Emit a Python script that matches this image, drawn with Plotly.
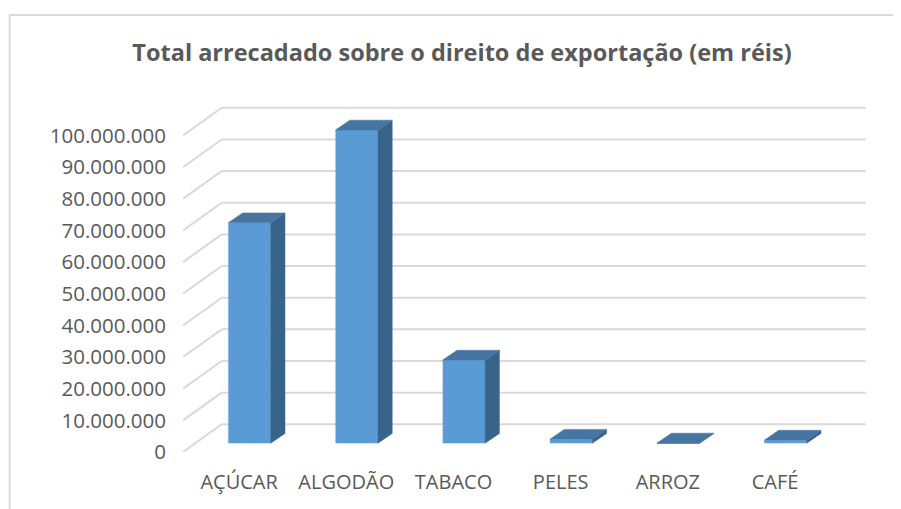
import plotly.graph_objects as go

# ---- data ----
categories = ["AÇÚCAR", "ALGODÃO", "TABACO", "PELES", "ARROZ", "CAFÉ"]
values = [69_700_000, 99_000_000, 26_300_000, 1_300_000, 100_000, 1_000_000]
y_ticks = list(range(0, 100_000_001, 10_000_000))

# ---- layout geometry (pixels of the target picture) ----
OFF = 8                 # page body margin of the browser
W, H = 901 - OFF, 509 - OFF
def PX(v):
    return v - OFF

plot_l, plot_r, plot_t, plot_b = PX(183), PX(875), PX(60), PX(452)
X0_PX = PX(249.5)       # pixel of first bar's front-face centre
PX_PER_UNIT = 107.2     # pixels per category step
PX_PER_VAL = 3.165 / 1e6

xr = [(plot_l - X0_PX) / PX_PER_UNIT, (plot_r - X0_PX) / PX_PER_UNIT]
yr = [0, (plot_b - plot_t) / PX_PER_VAL]

bar_base = (452 - 443.3) / PX_PER_VAL
wall_dy = (452 - 424.3) / PX_PER_VAL
wall_x0 = (PX(221.7) - X0_PX) / PX_PER_UNIT
wall_x1 = (PX(865.7) - X0_PX) / PX_PER_UNIT
front_x0 = xr[0]
half_w = 21.2 / PX_PER_UNIT
depth_dx = 14.3 / PX_PER_UNIT
depth_dy = 9.8 / PX_PER_VAL
label_shift = -10.4 / PX_PER_UNIT

FRONT = "#5B9BD5"
TOP = "#4675A2"
SIDE = "#38648C"
GRID = "#D9D9D9"
TEXT = "#595959"
FONT = "Open Sans"

xpos = list(range(len(categories)))

fig = go.Figure()

sx, sy = [], []
tx, ty = [], []
for xc, v in zip(xpos, values):
    b = bar_base
    r = xc + half_w
    l = xc - half_w
    sx += [r, r, r + depth_dx, r + depth_dx, r, None]
    sy += [b, b + v, b + v + depth_dy, b + depth_dy, b, None]
    tx += [l, r, r + depth_dx, l + depth_dx, l, None]
    ty += [b + v, b + v, b + v + depth_dy, b + v + depth_dy, b + v, None]

fig.add_trace(go.Bar(
    x=xpos, y=values, base=bar_base, width=2 * half_w,
    marker=dict(color=FRONT, line=dict(width=0)),
    hoverinfo="skip", showlegend=False,
))
fig.add_trace(go.Scatter(
    x=sx, y=sy, mode="lines", fill="toself", fillcolor=SIDE,
    line=dict(width=0.5, color=SIDE), hoverinfo="skip", showlegend=False,
))
fig.add_trace(go.Scatter(
    x=tx, y=ty, mode="lines", fill="toself", fillcolor=TOP,
    line=dict(width=0.5, color=TOP), hoverinfo="skip", showlegend=False,
))

shapes = []
for t in y_ticks:
    shapes.append(dict(type="line", xref="x", yref="y", layer="below",
                       x0=wall_x0, y0=t + wall_dy, x1=wall_x1, y1=t + wall_dy,
                       line=dict(color=GRID, width=2)))
    shapes.append(dict(type="line", xref="x", yref="y", layer="below",
                       x0=front_x0, y0=t, x1=wall_x0, y1=t + wall_dy,
                       line=dict(color=GRID, width=2)))

# chart border
pw, ph = plot_r - plot_l, plot_b - plot_t
def px2paper_x(px):
    return (PX(px) - plot_l) / pw
def px2paper_y(py):
    return (plot_b - PX(py)) / ph
shapes.append(dict(type="rect", xref="paper", yref="paper", layer="below",
                   x0=px2paper_x(9.7), y0=px2paper_y(530),
                   x1=px2paper_x(930), y1=px2paper_y(15),
                   line=dict(color=GRID, width=2), fillcolor="rgba(0,0,0,0)"))

fig.update_layout(
    width=W, height=H,
    margin=dict(l=plot_l, r=W - plot_r, t=plot_t, b=H - plot_b, autoexpand=False),
    paper_bgcolor="white", plot_bgcolor="white",
    separators=",.",
    barmode="overlay",
    shapes=shapes,
    font=dict(family=FONT, color=TEXT),
    title=dict(
        text="<b>Total arrecadado sobre o direito de exportação (em réis)</b>",
        font=dict(family=FONT, size=23.5, color=TEXT),
        xref="container", yref="container",
        x=PX(462) / W, y=1 - PX(53) / H, xanchor="center", yanchor="middle",
    ),
    xaxis=dict(
        range=xr, tickvals=[p + label_shift for p in xpos], ticktext=categories,
        showgrid=False, zeroline=False, showline=False, ticks="",
        tickfont=dict(family=FONT, size=20, color=TEXT),
        ticklabelstandoff=16, fixedrange=True,
    ),
    yaxis=dict(
        range=yr, tickvals=y_ticks, tickformat=",d",
        showgrid=False, zeroline=False, showline=False, ticks="",
        tickfont=dict(family=FONT, size=20.5, color=TEXT),
        ticklabelstandoff=16, fixedrange=True,
    ),
)

fig.write_html("out.html")
